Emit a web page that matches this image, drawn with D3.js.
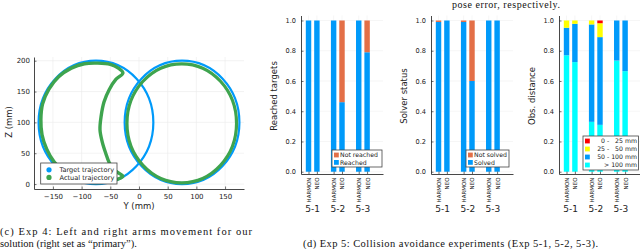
<!DOCTYPE html>
<html>
<head>
<meta charset="utf-8">
<script src="https://cdn.jsdelivr.net/npm/d3@7"></script>
<style>
  body { margin: 0; background: #fff; }
  svg { display: block; }
  text { font-family: "DejaVu Sans", sans-serif; fill: #222; }
  .serif { font-family: "Liberation Serif", "Times New Roman", serif; fill: #111; }
</style>
</head>
<body>
<svg id="fig" width="640" height="249"></svg>
<script>
// ---- data: trajectory plot (Exp 4)
var yTicks = [-150, -100, -50, 0, 50, 100, 150];
var zTicks = [0, 50, 100, 150, 200];
var targetCircles = [
  {y: -75, z: 100, ry: 100, rz: 100},
  {y: 75, z: 100, ry: 100, rz: 100}
];
var rightActual = {y: 74.5, z: 98.5, ry: 95.5, rz: 96.5};
// left arm actual path (Y, Z)
var leftActual = [
  [-28, 180], [-36, 188], [-50, 194], [-72, 196], [-95, 195], [-118, 188],
  [-140, 174], [-157, 154], [-168, 130], [-171, 105], [-169, 80], [-161, 57],
  [-148, 36], [-130, 19], [-108, 8], [-85, 3], [-62, 3], [-45, 6], [-32, 10],
  [-28, 13], [-42, 22], [-52, 35], [-58, 50], [-64, 68], [-68, 88],
  [-66, 110], [-61, 133], [-52, 153], [-40, 170]
];
var trajLegend = ["Target trajectory", "Actual trajectory"];

// ---- data: collision avoidance bars (Exp 5)
var groups = ["5-1", "5-2", "5-3"];
var methods = ["HARMON", "NEO", "HARMON", "NEO", "HARMON", "NEO"];
var barPos = [1, 2, 4, 5, 7, 8];
var barTicks = [0, 0.2, 0.4, 0.6, 0.8, 1.0];

var reached    = [1, 1, 1, 0.46, 1, 0.79];
var notReached = [0, 0, 0, 0.54, 0, 0.21];

var solved    = [0.99, 1, 0.99, 0.60, 1, 1];
var notSolved = [0.01, 0, 0.01, 0.40, 0, 0];

var over100  = [0.77, 0.725, 0.33, 0.31, 0.735, 0.665];
var d50to100 = [0.182, 0.253, 0.644, 0.58, 0.265, 0.335];
var d25to50  = [0.048, 0.022, 0.026, 0.092, 0, 0];
var d0to25   = [0, 0, 0, 0.018, 0, 0];

var blue = "#009AFA", orange = "#E36F47", green = "#3EA44E";

var svg = d3.select("#fig");

// ================= trajectory plot =================
var x = d3.scaleLinear().domain([-183, 183]).range([34, 244]);
var z = d3.scaleLinear().domain([-8, 206]).range([189, 57]);

var grid = svg.append("g").attr("stroke", "#ebebeb").attr("stroke-width", 0.6);
grid.selectAll(".gx").data(yTicks).enter().append("line")
  .attr("x1", function(d) { return x(d); }).attr("x2", function(d) { return x(d); })
  .attr("y1", z(-8)).attr("y2", z(206));
grid.selectAll(".gz").data(zTicks).enter().append("line")
  .attr("y1", function(d) { return z(d); }).attr("y2", function(d) { return z(d); })
  .attr("x1", x(-183)).attr("x2", x(183));

// target circles
svg.selectAll(".target").data(targetCircles).enter().append("ellipse")
  .attr("cx", function(d) { return x(d.y); })
  .attr("cy", function(d) { return z(d.z); })
  .attr("rx", function(d) { return x(d.ry) - x(0); })
  .attr("ry", function(d) { return z(0) - z(d.rz); })
  .attr("fill", "none").attr("stroke", blue).attr("stroke-width", 2.2);

// actual trajectories
svg.append("ellipse")
  .attr("cx", x(rightActual.y)).attr("cy", z(rightActual.z))
  .attr("rx", x(rightActual.ry) - x(0)).attr("ry", z(0) - z(rightActual.rz))
  .attr("fill", "none").attr("stroke", green).attr("stroke-width", 3.2);

var line = d3.line()
  .x(function(d) { return x(d[0]); })
  .y(function(d) { return z(d[1]); })
  .curve(d3.curveCatmullRomClosed);
svg.append("path").datum(leftActual)
  .attr("d", line)
  .attr("fill", "none").attr("stroke", green).attr("stroke-width", 3.4)
  .attr("stroke-linejoin", "round");

// axes
var xAxis = svg.append("g").attr("transform", "translate(0,189)")
  .call(d3.axisBottom(x).tickValues(yTicks).tickSizeInner(-2.5).tickSizeOuter(0).tickPadding(5));
var zAxis = svg.append("g").attr("transform", "translate(34,0)")
  .call(d3.axisLeft(z).tickValues(zTicks).tickSizeInner(-2.5).tickSizeOuter(0).tickPadding(4));
[xAxis, zAxis].forEach(function(a) {
  a.select(".domain").attr("stroke", "#333").attr("stroke-width", 0.9);
  a.selectAll(".tick line").attr("stroke", "#333").attr("stroke-width", 0.7);
  a.selectAll("text").style("font-size", "7px").attr("fill", "#333");
});

svg.append("text").attr("x", 139).attr("y", 208.5)
  .attr("text-anchor", "middle").style("font-size", "8.5px").text("Y (mm)");
svg.append("text").attr("transform", "translate(12,122) rotate(-90)")
  .attr("text-anchor", "middle").style("font-size", "8.5px").text("Z (mm)");

// legend
var lg = svg.append("g");
lg.append("rect").attr("x", 40.7).attr("y", 163).attr("width", 76.3).attr("height", 21)
  .attr("fill", "#fff").attr("stroke", "#444").attr("stroke-width", 0.8);
lg.selectAll(".ld").data(trajLegend).enter().append("circle")
  .attr("cx", 49).attr("cy", function(d, i) { return 169.8 + i * 7.6; })
  .attr("r", 2.6).attr("fill", function(d, i) { return i ? green : blue; });
lg.selectAll(".lt").data(trajLegend).enter().append("text")
  .attr("x", 59.5).attr("y", function(d, i) { return 172.3 + i * 7.6; })
  .style("font-size", "6.6px").text(function(d) { return d; });

// ================= bar charts =================
function barChart(left, label, series, legend) {
  var bx = d3.scaleLinear().domain([0.1, 9.9]).range([left, left + 82]);
  var by = d3.scaleLinear().domain([-0.015, 1.033]).range([174, 15.5]);
  var g = svg.append("g");

  var gg = g.append("g").attr("stroke", "#ececec").attr("stroke-width", 0.5);
  gg.selectAll(".h").data(barTicks).enter().append("line")
    .attr("x1", bx(0.1)).attr("x2", bx(9.9))
    .attr("y1", function(d) { return by(d); }).attr("y2", function(d) { return by(d); });
  gg.selectAll(".v").data(barPos).enter().append("line")
    .attr("x1", function(d) { return bx(d); }).attr("x2", function(d) { return bx(d); })
    .attr("y1", by(-0.015)).attr("y2", by(1.033));

  var rows = barPos.map(function(p, i) {
    var r = {pos: p};
    series.forEach(function(s) { r[s.key] = s.values[i]; });
    return r;
  });
  var stacked = d3.stack().keys(series.map(function(s) { return s.key; }))(rows);
  var bw = bx(0.65) - bx(0);
  g.selectAll(".layer").data(stacked).enter().append("g")
    .attr("fill", function(d, i) { return series[i].color; })
    .selectAll("rect").data(function(d) { return d; }).enter().append("rect")
    .attr("x", function(d) { return bx(d.data.pos) - bw / 2; })
    .attr("width", bw)
    .attr("y", function(d) { return by(d[1]); })
    .attr("height", function(d) { return Math.max(0, by(d[0]) - by(d[1])); });

  var ax = g.append("g").attr("transform", "translate(0,174)")
    .call(d3.axisBottom(bx).tickValues(barPos).tickSizeInner(-2.5).tickSizeOuter(0)
      .tickFormat(function(d, i) { return methods[i]; }));
  ax.selectAll("text").attr("transform", "rotate(-90)")
    .attr("text-anchor", "end").attr("x", -3.5).attr("y", 0).attr("dy", "0.35em")
    .style("font-size", "5.5px").attr("fill", "#333");
  var ay = g.append("g").attr("transform", "translate(" + left + ",0)")
    .call(d3.axisLeft(by).tickValues(barTicks).tickSizeInner(-2.5).tickSizeOuter(0)
      .tickPadding(5).tickFormat(d3.format(".1f")));
  ay.selectAll("text").style("font-size", "6.6px").attr("fill", "#333");
  [ax, ay].forEach(function(a) {
    a.select(".domain").attr("stroke", "#333").attr("stroke-width", 0.9);
    a.selectAll(".tick line").attr("stroke", "#333").attr("stroke-width", 0.7);
  });

  g.selectAll(".grp").data(groups).enter().append("text")
    .attr("x", function(d, i) { return bx(barPos[i * 2] + 0.5); })
    .attr("y", 212).attr("text-anchor", "middle")
    .style("font-size", "9px").text(function(d) { return d; });

  g.append("text").attr("transform", "translate(" + (left - 24) + ",96) rotate(-90)")
    .attr("text-anchor", "middle").style("font-size", "8.5px").text(label);

  var lgb = g.append("g");
  lgb.append("rect").attr("x", legend.x).attr("y", legend.y)
    .attr("width", legend.w).attr("height", legend.h)
    .attr("fill", "#fff").attr("stroke", "#444").attr("stroke-width", 0.8);
  legend.items.forEach(function(it, i) {
    var cy = legend.y + 5 + i * legend.step;
    lgb.append("rect").attr("x", legend.x + 2).attr("y", cy - 2.4)
      .attr("width", 4.8).attr("height", 4.8).attr("fill", it.color);
    var t = lgb.append("text").attr("y", cy + 2.2).style("font-size", "6.2px")
      .style("white-space", "pre").text(it.name);
    if (legend.right) t.attr("x", legend.x + legend.w - 1.5).attr("text-anchor", "end");
    else t.attr("x", legend.x + 8);
  });
}

barChart(301, "Reached targets",
  [{key: "r", values: reached, color: blue}, {key: "n", values: notReached, color: orange}],
  {x: 332, y: 150, w: 50, h: 17, step: 7.4,
   items: [{name: "Not reached", color: orange}, {name: "Reached", color: blue}]});

barChart(431, "Solver status",
  [{key: "s", values: solved, color: blue}, {key: "n", values: notSolved, color: orange}],
  {x: 466, y: 150, w: 43, h: 17, step: 7.4,
   items: [{name: "Not solved", color: orange}, {name: "Solved", color: blue}]});

barChart(559, "Obs. distance",
  [{key: "a", values: over100, color: "#00FFFF"}, {key: "b", values: d50to100, color: blue},
   {key: "c", values: d25to50, color: "#FFFF00"}, {key: "d", values: d0to25, color: "#FF0000"}],
  {x: 583, y: 136, w: 55.5, h: 34, step: 8, right: true,
   items: [{name: "0 -   25 mm", color: "#FF0000"}, {name: "25 -   50 mm", color: "#FFFF00"},
           {name: "50 - 100 mm", color: blue}, {name: "> 100 mm", color: "#00FFFF"}]});

// ================= captions =================
svg.append("text").attr("class", "serif").attr("x", 452).attr("y", 7.5)
  .attr("textLength", 108).attr("lengthAdjust", "spacing")
  .style("font-size", "10px").text("pose error, respectively.");
svg.append("text").attr("class", "serif").attr("x", 0).attr("y", 234.5)
  .attr("textLength", 252).attr("lengthAdjust", "spacing")
  .style("font-size", "10.5px").text("(c) Exp 4: Left and right arms movement for our");
svg.append("text").attr("class", "serif").attr("x", 0).attr("y", 247)
  .style("font-size", "10.5px").text("solution (right set as \u201Cprimary\u201D).");
svg.append("text").attr("class", "serif").attr("x", 303).attr("y", 247)
  .attr("textLength", 295).attr("lengthAdjust", "spacing")
  .style("font-size", "10.5px").text("(d) Exp 5: Collision avoidance experiments (Exp 5-1, 5-2, 5-3).");
</script>
</body>
</html>
